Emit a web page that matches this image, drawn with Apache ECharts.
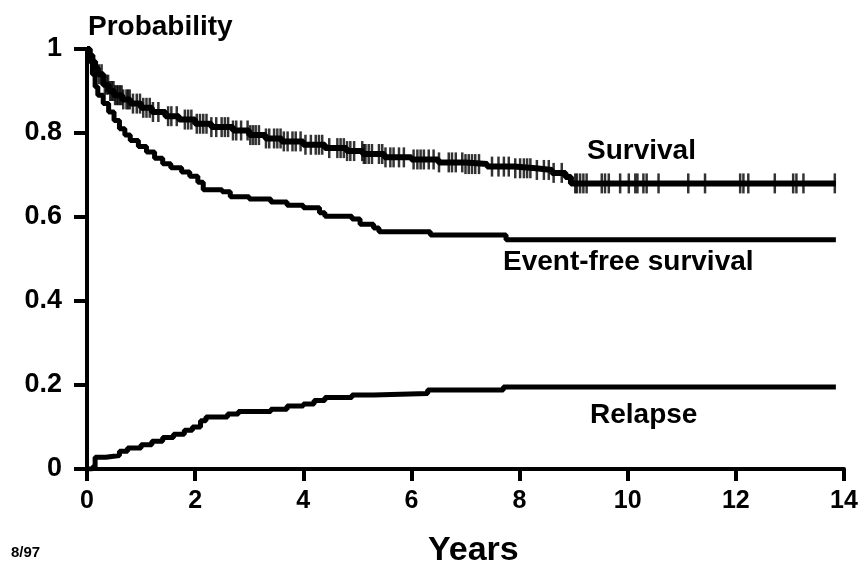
<!DOCTYPE html>
<html>
<head>
<meta charset="utf-8">
<script src="https://cdn.jsdelivr.net/npm/echarts@6/dist/echarts.min.js"></script>
<style>
  html, body { margin: 0; padding: 0; background: #fff; }
  #chart { width: 862px; height: 563px; }
</style>
</head>
<body>
<div id="chart"></div>
<script>
var FONT = '"Liberation Sans", Arial, sans-serif';

var xTicks = [0, 2, 4, 6, 8, 10, 12, 14];
var yTicks = [0, 0.2, 0.4, 0.6, 0.8, 1];

// Kaplan-Meier style curves
var survTimes  = [0, 0.05, 0.1, 0.15, 0.2, 0.3, 0.4, 0.5, 0.65, 0.8, 1.0, 1.2, 1.45, 1.7, 2.0, 2.3, 2.7, 3.0, 3.3, 3.6, 4.0, 4.4, 4.8, 5.1, 5.5, 6.0, 6.5, 7.0, 7.4, 7.9, 8.3, 8.6, 8.85, 8.95, 13.85];
var survValues = [1, 0.985, 0.97, 0.955, 0.94, 0.915, 0.9, 0.89, 0.88, 0.87, 0.86, 0.85, 0.84, 0.832, 0.822, 0.814, 0.806, 0.795, 0.787, 0.78, 0.772, 0.764, 0.757, 0.75, 0.742, 0.737, 0.73, 0.726, 0.72, 0.716, 0.712, 0.705, 0.695, 0.68, 0.68];

var efsTimes  = [0, 0.05, 0.1, 0.15, 0.2, 0.3, 0.4, 0.5, 0.6, 0.7, 0.8, 0.95, 1.1, 1.25, 1.4, 1.55, 1.75, 1.9, 2.05, 2.15, 2.5, 2.65, 3.0, 3.4, 3.7, 4.0, 4.3, 4.4, 4.9, 5.05, 5.3, 5.4, 6.35, 7.75, 13.85];
var efsValues = [1, 0.97, 0.94, 0.91, 0.89, 0.87, 0.85, 0.83, 0.81, 0.795, 0.782, 0.768, 0.755, 0.74, 0.727, 0.717, 0.707, 0.697, 0.683, 0.665, 0.66, 0.648, 0.643, 0.636, 0.628, 0.622, 0.61, 0.602, 0.595, 0.583, 0.574, 0.565, 0.557, 0.546, 0.546];

var relTimes  = [0, 0.1, 0.15, 0.35, 0.6, 0.75, 1.0, 1.2, 1.4, 1.6, 1.8, 1.95, 2.1, 2.2, 2.6, 2.8, 3.4, 3.7, 4.0, 4.2, 4.4, 4.9, 5.3, 6.3, 7.7, 13.85];
var relValues = [0, 0.005, 0.028, 0.032, 0.042, 0.05, 0.058, 0.066, 0.075, 0.083, 0.092, 0.1, 0.115, 0.124, 0.131, 0.137, 0.142, 0.15, 0.155, 0.163, 0.17, 0.176, 0.18, 0.188, 0.195, 0.195];

// censoring marks on the survival curve (years)
var censorTimes = [
  0.22, 0.27, 0.33, 0.36, 0.39, 0.43, 0.46, 0.49, 0.52, 0.55, 0.58, 0.61, 0.64, 0.67, 0.73, 0.76, 0.79, 0.85, 0.92, 0.98,
  1.04, 1.10, 1.16, 1.22, 1.32, 1.50, 1.56, 1.66, 1.81, 1.87, 1.93, 2.03, 2.09, 2.15, 2.21, 2.30, 2.39, 2.49, 2.55, 2.61,
  2.70, 2.76, 2.85, 2.97, 3.02, 3.07, 3.12, 3.18, 3.31, 3.37, 3.46, 3.52, 3.58, 3.64, 3.71, 3.80, 3.86, 3.95, 4.04, 4.14,
  4.23, 4.29, 4.35, 4.48, 4.63, 4.69, 4.75, 4.81, 4.87, 4.94, 5.09, 5.12, 5.15, 5.21, 5.27, 5.40, 5.46, 5.52, 5.61, 5.67,
  5.77, 5.86, 6.04, 6.11, 6.17, 6.23, 6.32, 6.41, 6.51, 6.69, 6.75, 6.82, 6.94, 7.0, 7.06, 7.12, 7.18, 7.25, 7.49, 7.61,
  7.71, 7.80, 7.92, 8.01, 8.08, 8.14, 8.20, 8.32, 8.45, 8.54, 8.63, 8.78, 9.03, 9.06, 9.12, 9.18, 9.24, 9.52, 9.58, 9.65,
  9.86, 10.02, 10.14, 10.18, 10.29, 10.35, 10.57, 11.12, 11.43, 12.08, 12.14, 12.23, 12.72, 13.06, 13.12, 13.25, 13.83
];

function pairs(xs, ys) {
  return xs.map(function (x, i) { return [x, ys[i]]; });
}

function survAt(t) {
  var v = survValues[0];
  for (var i = 0; i < survTimes.length; i++) {
    if (survTimes[i] <= t) v = survValues[i];
  }
  return v;
}

function label(text, x, y, size) {
  return {
    type : 'text',
    x    : x,
    y    : y,
    style: {
      text         : text,
      font         : 'bold ' + size + 'px ' + FONT,
      fill         : '#000',
      align        : 'left',
      verticalAlign: 'middle'
    }
  };
}

var lineBase = {
  type     : 'line',
  step     : 'end',
  symbol   : 'none',
  silent   : true,
  animation: false
};

var chart = echarts.init(document.getElementById('chart'));

var option = {
  animation: false,
  grid: { left: 87, right: 18, top: 49, bottom: 94 },
  xAxis: {
    type: 'value',
    min: 0,
    max: 14,
    interval: 2,
    axisLine : { show: true, onZero: false, lineStyle: { color: '#000', width: 4 } },
    axisTick : { show: true, length: 12, lineStyle: { color: '#000', width: 4 } },
    axisLabel: {
      margin: 20,
      color: '#000',
      fontFamily: FONT,
      fontWeight: 'bold',
      fontSize: 25,
      formatter: function (v) { return xTicks.indexOf(v) >= 0 ? String(v) : ''; }
    },
    splitLine: { show: false }
  },
  yAxis: {
    type: 'value',
    min: 0,
    max: 1,
    interval: 0.2,
    axisLine : { show: true, lineStyle: { color: '#000', width: 4 } },
    axisTick : { show: true, length: 13, lineStyle: { color: '#000', width: 4 } },
    axisLabel: {
      margin: 25,
      color: '#000',
      fontFamily: FONT,
      fontWeight: 'bold',
      fontSize: 27,
      formatter: function (v) {
        for (var i = 0; i < yTicks.length; i++) {
          if (Math.abs(yTicks[i] - v) < 1e-6) return String(yTicks[i]);
        }
        return '';
      }
    },
    splitLine: { show: false }
  },
  graphic: [
    label('Probability', 88, 27, 28),
    label('Years', 428, 551, 34),
    label('8/97', 11, 553, 15),
    label('Survival', 587, 151, 28),
    label('Event-free survival', 503, 262, 28),
    label('Relapse', 590, 415, 28)
  ],
  series: [
    Object.assign({}, lineBase, {
      name: 'Survival',
      data: pairs(survTimes, survValues),
      lineStyle: { color: '#000', width: 6 }
    }),
    Object.assign({}, lineBase, {
      name: 'Event-free survival',
      data: pairs(efsTimes, efsValues),
      lineStyle: { color: '#000', width: 5 }
    }),
    Object.assign({}, lineBase, {
      name: 'Relapse',
      data: pairs(relTimes, relValues),
      lineStyle: { color: '#000', width: 5 }
    }),
    {
      name: 'Censored',
      type: 'scatter',
      silent: true,
      symbol: 'rect',
      symbolSize: [2.5, 20],
      itemStyle: { color: '#000' },
      data: censorTimes.map(function (t) { return [t, survAt(t)]; })
    }
  ]
};

chart.setOption(option);
</script>
</body>
</html>
